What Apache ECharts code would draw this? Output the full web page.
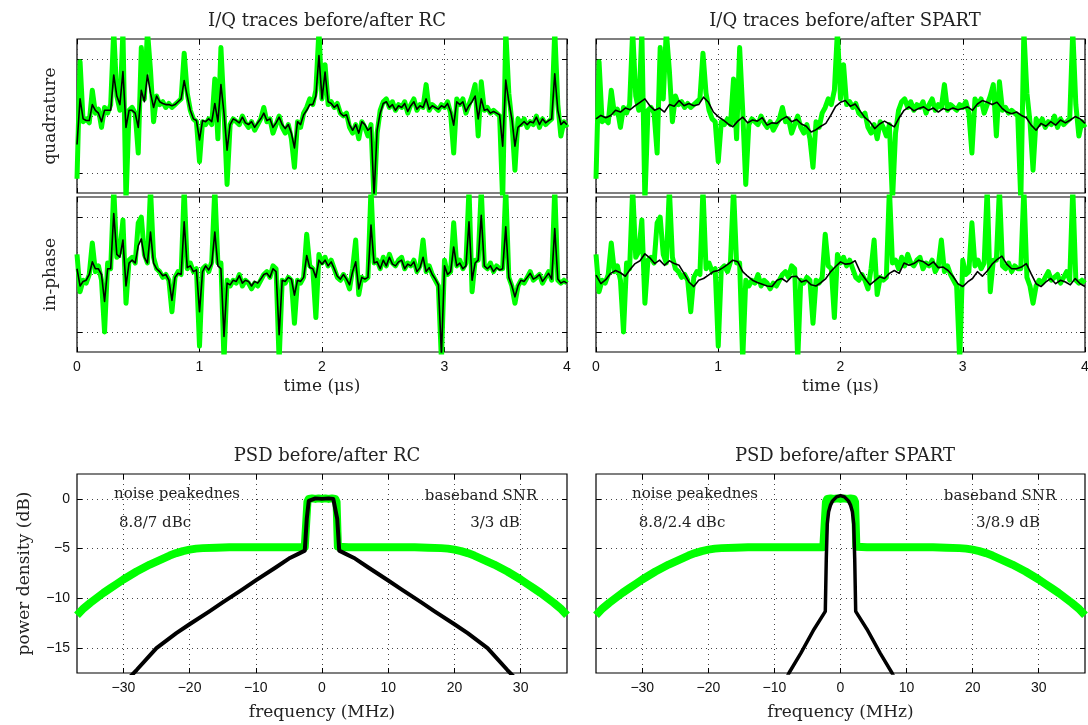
<!DOCTYPE html>
<html>
<head>
<meta charset="utf-8">
<script src="https://cdn.jsdelivr.net/npm/echarts@6/dist/echarts.min.js"></script>
<style>
  html, body { margin: 0; padding: 0; background: #fff; }
  #chart { width: 1088px; height: 725px; }
</style>
</head>
<body>
<div id="chart"></div>
<script>
// sample period of the traces (µs)
const traceStep = 0.025;
const spartStep = 0.04;

// tick positions
const timeTicks = [0, 1, 2, 3, 4];
const iqTicks = [-1, 0, 1];
const freqTicks = [-30, -20, -10, 0, 10, 20, 30];
const dbTicks = [-15, -10, -5, 0];

// input I/Q (before), same signal in both columns
const greenQ = [
  -1.10, 0.95, -0.10, -0.05, -0.12, 0.45, 0.05, 0.12, -0.20, 0.15,
  0.05, 0.20, 1.50, 0.35, 0.10, 1.50, -1.50, 0.10, 0.15, 0.05,
  -0.65, 1.20, 0.30, 1.50, 0.80, -0.10, 0.35, 0.20, 0.25, 0.15,
  0.22, 0.15, 0.20, 0.25, 0.30, 1.10, 0.40, 0.10, -0.05, -0.10,
  -0.80, -0.10, -0.15, -0.05, -0.15, 0.65, -0.40, 1.20, 0.10, -1.20,
  -0.15, -0.05, -0.10, -0.15, 0.00, -0.12, -0.20, -0.10, -0.25, -0.15,
  -0.05, 0.15, -0.10, -0.05, -0.30, -0.15, 0.00, -0.20, -0.30, -0.15,
  -0.40, -0.90, -0.10, -0.20, 0.05, 0.15, 0.30, 0.20, 0.45, 1.50,
  0.30, 0.90, 0.20, 0.25, 0.15, 0.22, 0.05, 0.00, 0.05, -0.20,
  -0.30, -0.15, -0.40, -0.10, -0.20, -0.35, -0.15, -1.50, -0.30, 0.10,
  0.25, 0.30, 0.15, 0.25, 0.10, 0.20, 0.15, 0.25, 0.05, 0.20,
  0.30, 0.10, 0.20, 0.15, 0.55, 0.10, 0.20, 0.15, 0.10, 0.20,
  0.15, 0.25, 0.05, -0.65, 0.30, 0.20, 0.30, 0.05, 0.20, 0.35,
  0.55, -0.35, 0.60, 0.10, 0.15, 0.05, 0.10, 0.05, 0.00, -1.50,
  1.50, 0.40, -0.10, -0.95, -0.05, -0.15, -0.05, -0.20, -0.10, -0.15,
  0.00, -0.20, -0.05, -0.15, -0.10, -0.05, 1.50, 0.20, -0.35, -0.10,
  -0.20
];
const greenI = [
  0.35, -0.30, -0.10, -0.15, 0.00, 0.55, 0.05, 0.15, -0.10, -1.00,
  0.20, 0.10, 1.50, 0.30, 0.40, 0.95, -0.50, 0.25, 0.30, 0.20,
  0.90, 1.00, 0.35, 0.20, 1.50, 0.30, 0.10, 0.05, -0.05, 0.00,
  -0.10, -0.65, -0.05, 0.05, 0.00, 1.50, 0.10, 0.20, 0.05, 0.10,
  -1.25, 0.10, 0.15, 0.05, 0.22, 1.50, 0.20, 0.20, -1.50, -0.10,
  -0.20, -0.10, -0.15, 0.00, -0.20, -0.10, -0.15, -0.25, -0.15, -0.20,
  -0.10, 0.00, 0.05, -0.05, 0.15, 0.10, -1.50, -0.10, -0.15, -0.05,
  -0.10, -0.85, -0.10, -0.15, -0.05, 0.70, 0.15, 0.10, -0.75, 0.35,
  0.20, 0.30, 0.15, 0.25, 0.10, -0.05, -0.10, 0.00, -0.10, -0.25,
  0.10, 0.60, -0.35, -0.05, -0.10, -0.05, 1.50, 0.20, 0.25, 0.10,
  0.30, 0.15, 0.35, 0.20, 0.15, 0.25, 0.30, 0.10, 0.20, 0.15,
  0.25, 0.05, 0.15, 0.60, 0.05, 0.15, 0.00, -0.10, -0.20, -1.50,
  0.25, 0.00, 0.05, 0.90, 0.15, 0.25, 0.10, 0.20, 1.50, -0.30,
  0.25, 0.25, 1.50, 0.15, 0.10, 0.20, 0.05, 0.15, 0.10, 0.10,
  1.50, -0.05, -0.20, -0.50, -0.20, -0.10, -0.15, -0.05, 0.05, -0.10,
  -0.05, 0.00, -0.15, -0.05, 0.05, -0.10, 1.50, -0.10, -0.15, -0.10,
  -0.15
];

// after RC
const rcQ = [
  -0.50, 0.30, -0.05, -0.08, -0.08, 0.20, 0.10, 0.05, -0.10, 0.10,
  0.10, 0.10, 0.72, 0.35, 0.20, 0.78, -0.20, 0.10, 0.10, 0.05,
  -0.20, 0.45, 0.25, 0.72, 0.40, 0.15, 0.35, 0.25, 0.22, 0.20,
  0.20, 0.18, 0.20, 0.25, 0.30, 0.62, 0.35, 0.10, -0.05, -0.08,
  -0.42, -0.08, -0.10, -0.05, -0.10, 0.22, -0.10, 0.55, 0.05, -0.60,
  -0.15, -0.05, -0.08, -0.12, -0.02, -0.12, -0.15, -0.10, -0.20, -0.12,
  -0.05, 0.05, -0.08, -0.05, -0.20, -0.12, -0.02, -0.15, -0.22, -0.15,
  -0.30, -0.56, -0.10, -0.15, 0.02, 0.10, 0.20, 0.20, 0.35, 1.06,
  0.30, 0.77, 0.25, 0.22, 0.15, 0.20, 0.05, 0.00, 0.02, -0.15,
  -0.25, -0.15, -0.30, -0.10, -0.15, -0.25, -0.20, -1.40, -0.25, 0.05,
  0.22, 0.25, 0.15, 0.20, 0.10, 0.18, 0.15, 0.22, 0.08, 0.18,
  0.25, 0.12, 0.18, 0.15, 0.30, 0.12, 0.18, 0.15, 0.12, 0.18,
  0.15, 0.22, 0.08, -0.16, 0.25, 0.20, 0.25, 0.08, 0.18, 0.25,
  0.35, -0.05, 0.30, 0.10, 0.12, 0.05, 0.08, 0.05, 0.02, -0.53,
  0.63, 0.25, -0.05, -0.53, -0.20, -0.15, -0.10, -0.15, -0.10, -0.12,
  -0.02, -0.15, -0.05, -0.12, -0.08, -0.05, 0.74, 0.10, -0.15, -0.10,
  -0.15
];
const rcI = [
  0.10, -0.20, -0.12, -0.10, 0.00, 0.22, 0.10, 0.10, 0.00, -0.47,
  0.10, 0.10, 1.06, 0.35, 0.30, 0.60, -0.20, 0.20, 0.25, 0.20,
  0.50, 0.62, 0.30, 0.20, 0.74, 0.20, 0.10, 0.05, -0.02, 0.00,
  -0.10, -0.45, -0.05, 0.02, 0.00, 0.92, 0.12, 0.15, 0.05, 0.08,
  -0.65, 0.05, 0.15, 0.08, 0.18, 0.74, 0.15, 0.10, -1.08, -0.15,
  -0.18, -0.10, -0.12, -0.02, -0.15, -0.10, -0.12, -0.20, -0.12, -0.15,
  -0.08, 0.00, 0.02, -0.05, 0.10, 0.05, -1.05, -0.10, -0.12, -0.05,
  -0.08, -0.36, -0.10, -0.12, -0.05, 0.33, 0.12, 0.10, -0.05, 0.25,
  0.18, 0.25, 0.15, 0.22, 0.10, -0.03, -0.08, 0.00, -0.08, -0.18,
  0.05, 0.22, -0.25, -0.05, -0.08, -0.05, 0.86, 0.20, 0.22, 0.10,
  0.25, 0.15, 0.30, 0.18, 0.15, 0.22, 0.25, 0.10, 0.18, 0.15,
  0.22, 0.05, 0.12, 0.30, 0.05, 0.12, 0.00, -0.08, -0.18, -1.40,
  0.15, 0.00, 0.05, 0.48, 0.15, 0.20, 0.10, 0.15, 0.92, -0.10,
  0.20, 0.25, 1.03, 0.15, 0.10, 0.15, 0.05, 0.12, 0.08, 0.10,
  0.83, -0.05, -0.20, -0.39, -0.20, -0.10, -0.12, -0.05, 0.02, -0.08,
  -0.05, 0.00, -0.12, -0.05, 0.02, -0.08, 0.80, -0.08, -0.15, -0.12,
  -0.15
];

// after SPART (sampled every spartStep)
const spartQ = [
  -0.05, 0.01, -0.03, 0.01, 0.10, 0.07, 0.14, 0.11, 0.18, 0.24,
  0.30, 0.18, 0.10, 0.14, 0.07, 0.20, 0.17, 0.27, 0.18, 0.22,
  0.18, 0.20, 0.33, 0.24, 0.07, -0.01, -0.07, -0.14, -0.19, -0.09,
  -0.02, -0.12, -0.07, -0.09, -0.03, -0.16, -0.12, -0.13, -0.06, -0.01,
  -0.10, -0.06, -0.14, -0.18, -0.28, -0.24, -0.18, -0.13, 0.01, 0.17,
  0.24, 0.27, 0.17, 0.21, 0.09, -0.03, -0.10, -0.22, -0.14, -0.09,
  -0.14, -0.19, -0.03, 0.10, 0.16, 0.09, 0.13, 0.16, 0.10, 0.14,
  0.07, 0.13, 0.10, 0.14, 0.11, 0.13, 0.16, 0.10, 0.21, 0.27,
  0.24, 0.20, 0.24, 0.14, 0.07, 0.04, 0.07, 0.01, -0.03, -0.16,
  -0.25, -0.13, -0.18, -0.10, -0.16, -0.07, -0.12, -0.07, -0.01, -0.05,
  -0.13
];
const spartI = [
  -0.01, -0.16, -0.09, 0.02, 0.07, 0.03, -0.03, 0.09, 0.19, 0.24,
  0.36, 0.29, 0.19, 0.25, 0.16, 0.24, 0.19, 0.16, 0.02, -0.13,
  -0.21, -0.10, -0.07, -0.01, 0.05, 0.07, 0.12, 0.18, 0.25, 0.22,
  0.05, -0.03, -0.10, -0.14, -0.17, -0.20, -0.21, -0.10, -0.07, -0.13,
  -0.04, -0.03, -0.13, -0.10, -0.18, -0.20, -0.14, -0.07, 0.05, 0.14,
  0.22, 0.18, 0.19, 0.24, 0.05, -0.07, -0.18, -0.11, -0.04, -0.07,
  0.02, 0.07, 0.02, 0.20, 0.16, 0.19, 0.25, 0.22, 0.16, 0.22,
  0.12, 0.13, 0.07, -0.03, -0.16, -0.21, -0.13, -0.07, 0.05, -0.03,
  0.06, 0.18, 0.26, 0.32, 0.18, 0.10, 0.10, 0.13, 0.19, 0.01,
  -0.16, -0.21, -0.13, -0.07, -0.16, -0.10, -0.13, -0.18, -0.07, -0.16,
  -0.21
];

// PSD (MHz / dB)
const psdFreq = [
  -37, -36, -35, -34, -33, -32, -31, -30, -29, -28, -27, -26, -25, -24, -23, -22, -21, -20, -19, -18,
  -16, -14, -12, -10, -8, -6, -4, -2.6, -2.4, -2.2, -2.0, -1.5, -1, -0.5, 0,
  0.5, 1, 1.5, 2.0, 2.2, 2.4, 2.6, 4, 6, 8, 10, 12, 14, 16,
  18, 19, 20, 21, 22, 23, 24, 25, 26, 27, 28, 29, 30, 31, 32, 33, 34, 35, 36, 37
];
const psdBefore = [
  -11.7, -11.0, -10.45, -9.95, -9.45, -9.0, -8.55, -8.1, -7.7, -7.3, -6.95, -6.6, -6.3, -6.0, -5.7, -5.45, -5.25, -5.1, -5.0, -4.95,
  -4.9, -4.85, -4.85, -4.85, -4.85, -4.85, -4.85, -4.85, -4.8, -0.3, 0.0, 0.05, 0.0, 0.05, 0.0,
  0.05, 0.0, 0.05, 0.0, -0.3, -4.8, -4.85, -4.85, -4.85, -4.85, -4.85, -4.85, -4.85, -4.9,
  -4.95, -5.0, -5.1, -5.25, -5.45, -5.7, -6.0, -6.3, -6.6, -6.95, -7.3, -7.7, -8.1, -8.55, -9.0, -9.45, -9.95, -10.45, -11.0, -11.7
];
const rcPsdFreq = [
  -37, -34, -31, -28, -25, -22, -20, -17, -15, -12, -10, -7, -5, -3.5, -2.6, -2.3, -2.0, -1.7, -1, 0,
  1, 1.7, 2.0, 2.3, 2.6, 3.5, 5, 7, 10, 12, 15, 17, 20, 22, 25, 28, 31, 34, 37
];
const rcPsd = [
  -24, -21.5, -19.3, -17.2, -15.0, -13.5, -12.6, -11.3, -10.4, -9.1, -8.2, -6.9, -6.0, -5.5, -5.2, -2.0, -0.2, 0.0, 0.05, 0.0,
  0.05, 0.0, -0.2, -2.0, -5.2, -5.5, -6.0, -6.9, -8.2, -9.1, -10.4, -11.3, -12.6, -13.5, -15.0, -17.2, -19.3, -21.5, -24
];
const spartPsdFreq = [
  -37, -12, -10, -7.8, -6, -4, -2.3, -2.15, -2.0, -1.8, -1.5, -1.2, -0.6, 0,
  0.6, 1.2, 1.5, 1.8, 2.0, 2.15, 2.3, 4, 6, 7.8, 10, 12, 37
];
const spartPsd = [
  -40, -22, -20.5, -17.5, -15.5, -13.1, -11.3, -6.0, -2.5, -1.3, -0.6, -0.2, 0.2, 0.33,
  0.2, -0.2, -0.6, -1.3, -2.5, -6.0, -11.3, -13.1, -15.5, -17.5, -20.5, -22, -40
];

const notes = [
  { text: 'noise peakednes', x: 177, y: 494 },
  { text: '8.8/7 dBc', x: 155, y: 523 },
  { text: 'baseband SNR', x: 481, y: 496 },
  { text: '3/3 dB', x: 495, y: 523 },
  { text: 'noise peakednes', x: 695, y: 494 },
  { text: '8.8/2.4 dBc', x: 682, y: 523 },
  { text: 'baseband SNR', x: 1000, y: 496 },
  { text: '3/8.9 dB', x: 1008, y: 523 }
];

const serif = 'DejaVu Serif';
const sans = 'Liberation Sans';
const green = '#00ff00';

function stepped(step, arr) {
  return arr.map((v, i) => [+(i * step).toFixed(3), v]);
}
function zip(xs, ys) {
  return xs.map((x, i) => [x, ys[i]]);
}
function minus(v) {
  return String(v).replace('-', '\u2212');
}

const grids = [
  { left: 77, top: 39, width: 490, height: 154 },   // RC quadrature
  { left: 77, top: 197, width: 490, height: 155 },  // RC in-phase
  { left: 596, top: 39, width: 489, height: 154 },  // SPART quadrature
  { left: 596, top: 197, width: 489, height: 155 }, // SPART in-phase
  { left: 77, top: 474, width: 490, height: 199 },  // PSD RC
  { left: 596, top: 474, width: 489, height: 199 }  // PSD SPART
].map(g => Object.assign({ show: true, borderColor: '#000', borderWidth: 1.2, outerBoundsMode: 'none' }, g));

const nameStyle = { fontFamily: serif, fontSize: 17, color: '#222' };
const noLine = { show: false, onZero: false };
function dots() {
  return { show: true, lineStyle: { color: '#444', width: 1, type: [1, 4] } };
}
function ticks(values) {
  return { show: true, inside: true, length: 5, customValues: values, lineStyle: { color: '#000', width: 1 } };
}

const xAxes = [];
const yAxes = [];
// bottom/left axes carry grid lines and labels, top/right only mirror the ticks
function addAxes(g, x, y) {
  xAxes.push({
    type: 'value', gridIndex: g, position: 'bottom', min: x.min, max: x.max,
    axisLine: noLine, axisTick: ticks(x.ticks), splitLine: dots(),
    axisLabel: {
      show: !!x.labels, customValues: x.ticks, margin: 8,
      fontFamily: sans, fontSize: 14, color: '#111', formatter: minus
    },
    name: x.name || '', nameLocation: 'middle', nameGap: x.nameGap || 26, nameTextStyle: nameStyle
  });
  xAxes.push({
    type: 'value', gridIndex: g, position: 'top', min: x.min, max: x.max,
    axisLine: noLine, axisTick: ticks(x.ticks), splitLine: { show: false }, axisLabel: { show: false }
  });
  yAxes.push({
    type: 'value', gridIndex: g, position: 'left', min: y.min, max: y.max,
    axisLine: noLine, axisTick: ticks(y.ticks), splitLine: dots(),
    axisLabel: {
      show: !!y.labels, customValues: y.ticks, margin: 7,
      fontFamily: sans, fontSize: 14, color: '#111', formatter: minus
    },
    name: y.name || '', nameLocation: 'middle', nameGap: y.nameGap || 18, nameRotate: 90, nameTextStyle: nameStyle
  });
  yAxes.push({
    type: 'value', gridIndex: g, position: 'right', min: y.min, max: y.max,
    axisLine: noLine, axisTick: ticks(y.ticks), splitLine: { show: false }, axisLabel: { show: false }
  });
}

const timeAxis = { min: 0, max: 4, ticks: timeTicks };
const timeAxisLabelled = { min: 0, max: 4, ticks: timeTicks, labels: true, name: 'time (\u03bcs)', nameGap: 26 };
const iqAxis = { min: -1.35, max: 1.35, ticks: iqTicks };
const freqAxis = { min: -37, max: 37, ticks: freqTicks, labels: true, name: 'frequency (MHz)', nameGap: 31 };
const dbAxis = { min: -17.5, max: 2.5, ticks: dbTicks };

addAxes(0, timeAxis, Object.assign({ name: 'quadrature', nameGap: 18 }, iqAxis));
addAxes(1, timeAxisLabelled, Object.assign({ name: 'in-phase', nameGap: 18 }, iqAxis));
addAxes(2, timeAxis, iqAxis);
addAxes(3, timeAxisLabelled, iqAxis);
addAxes(4, freqAxis, Object.assign({ labels: true, name: 'power density (dB)', nameGap: 44 }, dbAxis));
addAxes(5, freqAxis, dbAxis);

function line(g, data, color, width) {
  return {
    type: 'line', xAxisIndex: 2 * g, yAxisIndex: 2 * g, data: data,
    showSymbol: false, symbol: 'none', clip: true, silent: true,
    lineStyle: { color: color, width: width, join: 'round' }, itemStyle: { color: color }
  };
}

const series = [
  line(0, stepped(traceStep, greenQ), green, 5),
  line(0, stepped(traceStep, rcQ), '#000', 1.6),
  line(1, stepped(traceStep, greenI), green, 5),
  line(1, stepped(traceStep, rcI), '#000', 1.6),
  line(2, stepped(traceStep, greenQ), green, 5),
  line(2, stepped(spartStep, spartQ), '#000', 1.6),
  line(3, stepped(traceStep, greenI), green, 5),
  line(3, stepped(spartStep, spartI), '#000', 1.6),
  line(4, zip(psdFreq, psdBefore), green, 8),
  line(4, zip(rcPsdFreq, rcPsd), '#000', 4),
  line(5, zip(psdFreq, psdBefore), green, 8),
  line(5, zip(spartPsdFreq, spartPsd), '#000', 3.5)
];

const titleStyle = { fontFamily: serif, fontSize: 18, fontWeight: 'normal', color: '#222' };
const chart = echarts.init(document.getElementById('chart'), null, { renderer: 'canvas' });
chart.setOption({
  animation: false,
  backgroundColor: '#fff',
  title: [
    { text: 'I/Q traces before/after RC', left: 322, top: 7, textAlign: 'center', textStyle: titleStyle },
    { text: 'I/Q traces before/after SPART', left: 840, top: 7, textAlign: 'center', textStyle: titleStyle },
    { text: 'PSD before/after RC', left: 322, top: 442, textAlign: 'center', textStyle: titleStyle },
    { text: 'PSD before/after SPART', left: 840, top: 442, textAlign: 'center', textStyle: titleStyle }
  ],
  grid: grids,
  xAxis: xAxes,
  yAxis: yAxes,
  series: series,
  graphic: notes.map(n => ({
    type: 'text', x: n.x, y: n.y, z: 10, silent: true,
    style: { text: n.text, font: '15px "' + serif + '"', fill: '#222', align: 'center', verticalAlign: 'middle' }
  }))
});
</script>
</body>
</html>
